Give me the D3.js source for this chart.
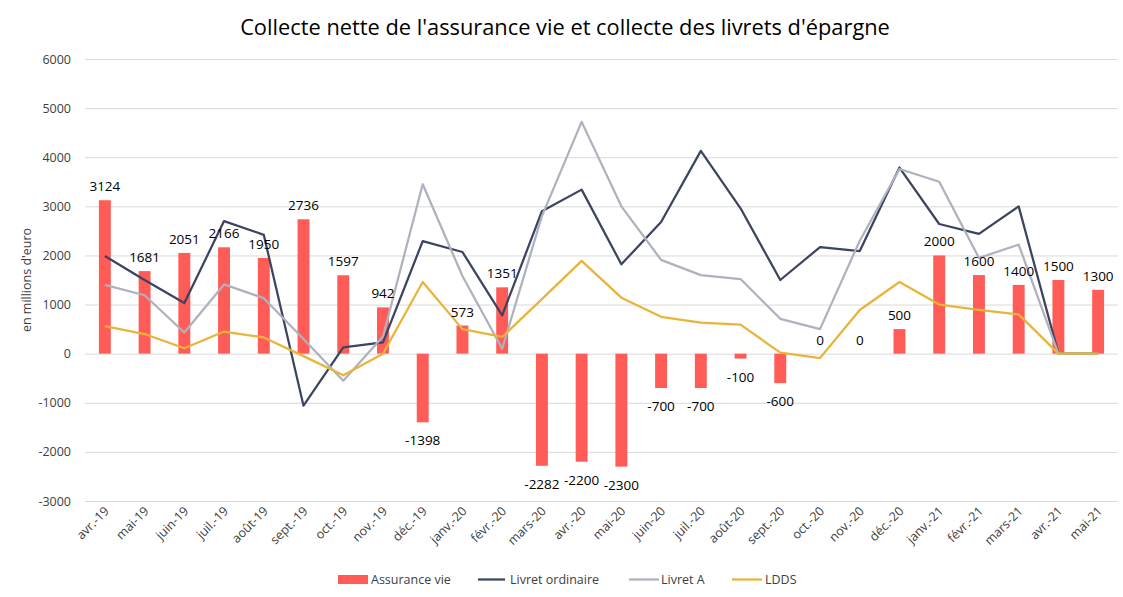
<!DOCTYPE html>
<html>
<head>
<meta charset="utf-8">
<script src="https://cdn.jsdelivr.net/npm/d3@7"></script>
<style>
  html, body { margin: 0; padding: 0; background: #fff; }
  svg { display: block; font-family: "Open Sans", "Noto Sans", sans-serif; }
</style>
</head>
<body>
<svg id="chart" width="1123" height="597"></svg>
<script>
const categories = ["avr.-19","mai-19","juin-19","juil.-19","août-19","sept.-19","oct.-19","nov.-19","déc.-19",
  "janv.-20","févr.-20","mars-20","avr.-20","mai-20","juin-20","juil.-20","août-20","sept.-20","oct.-20","nov.-20","déc.-20",
  "janv.-21","févr.-21","mars-21","avr.-21","mai-21"];
const assuranceVie = [3124,1681,2051,2166,1950,2736,1597,942,-1398,573,1351,-2282,-2200,-2300,-700,-700,-100,-600,0,0,500,2000,1600,1400,1500,1300];
const livretOrdinaire = [1990,1500,1030,2700,2420,-1060,130,230,2290,2070,780,2900,3340,1820,2680,4130,2960,1500,2170,2090,3790,2640,2440,3000,0,0];
const livretA = [1400,1190,430,1410,1130,300,-550,350,3450,1580,100,2800,4720,3000,1910,1600,1520,710,500,2300,3760,3500,1950,2220,0,0];
const ldds = [560,400,110,450,330,-50,-440,0,1460,500,340,1110,1890,1140,750,630,590,20,-90,890,1460,1000,890,800,0,0];
const yTicks = [-3000,-2000,-1000,0,1000,2000,3000,4000,5000,6000];

const title = "Collecte nette de l'assurance vie et collecte des livrets d'épargne";
const yLabel = "en millions d'euro";

const svg = d3.select("#chart");
const pLeft = 85, pRight = 1118, pTop = 59, pBottom = 501;

const x = d3.scaleBand().domain(categories).range([pLeft, pRight]).paddingInner(0.7).paddingOuter(0.35);
const xc = d => x(d) + x.bandwidth() / 2;
const y = d3.scaleLinear().domain([-3000, 6000]).range([pBottom, pTop]);

// Title
const t = svg.append("text").attr("x", 565).attr("y", 35).attr("text-anchor", "middle")
  .attr("fill", "#000").style("font-size", "20px").text(title);
const tw = t.node().getComputedTextLength();
t.style("font-size", (20 * 650 / tw) + "px");

// Gridlines
const yAxis = d3.axisLeft(y).tickValues(yTicks).tickSize(-(pRight - pLeft)).tickFormat(d => String(d)).tickPadding(14);
const gy = svg.append("g").attr("transform", `translate(${pLeft},0)`).call(yAxis);
gy.select(".domain").remove();
gy.selectAll(".tick line").attr("stroke", "#d9d9d9").attr("stroke-width", 1);
gy.selectAll(".tick text").attr("fill", "#404040").style("font-size", "12.5px")
  .style("font-family", "'Open Sans', sans-serif");

// Y label
svg.append("text").attr("transform", `translate(31,${(pTop + pBottom) / 2}) rotate(-90)`)
  .attr("text-anchor", "middle").attr("fill", "#404040").style("font-size", "12.5px").text(yLabel);

// Bars
svg.append("g").selectAll("rect").data(assuranceVie).join("rect")
  .attr("x", (d, i) => x(categories[i]))
  .attr("width", x.bandwidth())
  .attr("y", d => y(Math.max(0, d)))
  .attr("height", d => Math.abs(y(d) - y(0)))
  .attr("fill", "#FF5B57");

// Lines
const line = arr => d3.line().x((d, i) => xc(categories[i])).y(d => y(d))(arr);
const series = [
  {name: "Livret ordinaire", data: livretOrdinaire, color: "#3B4460"},
  {name: "Livret A", data: livretA, color: "#AEB1BE"},
  {name: "LDDS", data: ldds, color: "#E8B43A"}
];
series.forEach(s => {
  svg.append("path").attr("d", line(s.data)).attr("fill", "none")
    .attr("stroke", s.color).attr("stroke-width", 2.25).attr("stroke-linejoin", "round");
});

// Data labels
svg.append("g").selectAll("text").data(assuranceVie).join("text")
  .attr("x", (d, i) => xc(categories[i]))
  .attr("y", d => d >= 0 ? y(d) - 9 : y(d) + 23)
  .attr("text-anchor", "middle").attr("fill", "#000").style("font-size", "13.5px")
  .text(d => d);

// X labels
svg.append("g").selectAll("text").data(categories).join("text")
  .attr("transform", d => `translate(${xc(d) + 5},${512}) rotate(-45)`)
  .attr("text-anchor", "end").attr("fill", "#404040").style("font-size", "12.5px")
  .text(d => d);

// Legend
const lg = svg.append("g").style("font-size", "12.5px");
lg.append("rect").attr("x", 338).attr("y", 575).attr("width", 30).attr("height", 9).attr("fill", "#FF5B57");
lg.append("text").attr("x", 371).attr("y", 584).attr("fill", "#404040").text("Assurance vie");
const legItems = [
  {s: series[0], x1: 478, x2: 505, tx: 510},
  {s: series[1], x1: 629, x2: 659, tx: 661},
  {s: series[2], x1: 732, x2: 762, tx: 765}
];
legItems.forEach(it => {
  lg.append("line").attr("x1", it.x1).attr("x2", it.x2).attr("y1", 579.5).attr("y2", 579.5)
    .attr("stroke", it.s.color).attr("stroke-width", 2.25);
  lg.append("text").attr("x", it.tx).attr("y", 584).attr("fill", "#404040").text(it.s.name);
});
</script>
</body>
</html>
